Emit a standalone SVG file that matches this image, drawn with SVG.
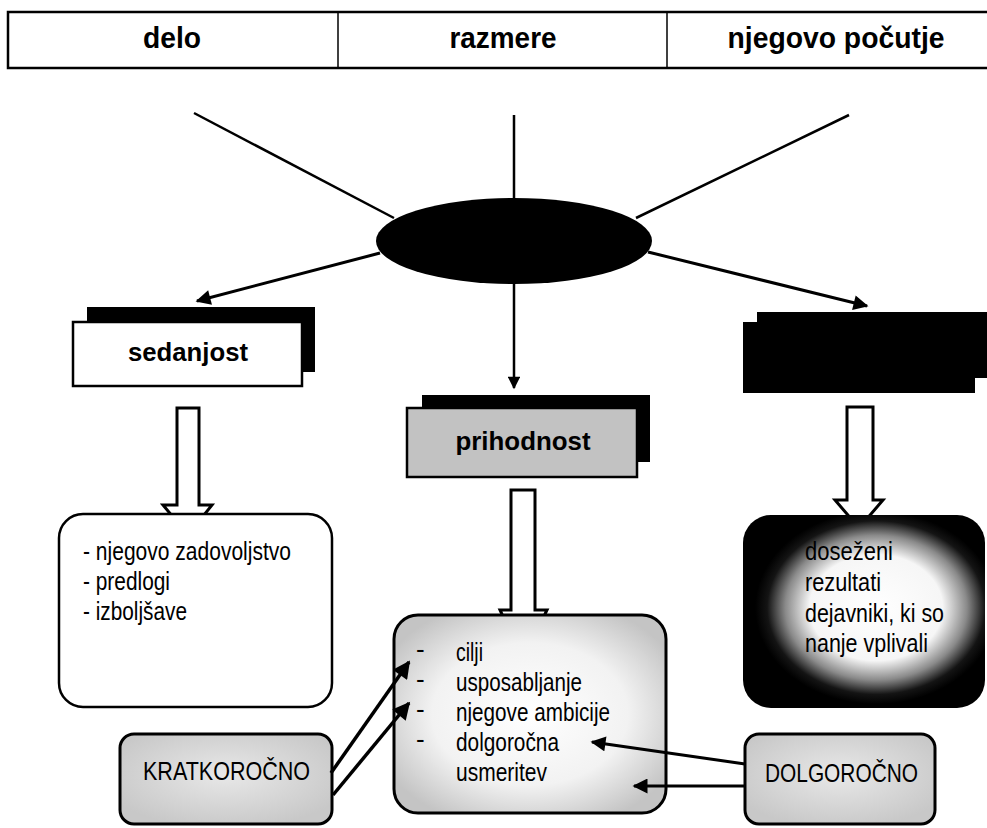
<svg xmlns="http://www.w3.org/2000/svg" width="987" height="828" viewBox="0 0 987 828">
<style>
.t{font-family:"Liberation Sans Narrow","Liberation Sans",Arial,sans-serif;fill:#000}
.hd{font-size:30px;font-weight:bold}
.bd{font-family:"Liberation Sans",Arial,sans-serif;font-size:25px;font-weight:bold;fill:#000}
.it{font-size:26px}
.ln{stroke:#000;fill:none}
.hol{fill:#fff;stroke:#000;stroke-width:3;stroke-linejoin:miter}
</style>
<defs>
<marker id="ah" viewBox="0 0 10 10" refX="9" refY="5" markerWidth="5.5" markerHeight="5" orient="auto" markerUnits="strokeWidth">
<path d="M0,0 L10,5 L0,10 z" fill="#000"/>
</marker>
<radialGradient id="gGray" cx="0.5" cy="0.5" r="0.6">
<stop offset="0" stop-color="#ffffff"/>
<stop offset="0.6" stop-color="#f2f2f2"/>
<stop offset="1" stop-color="#c4c4c4"/>
</radialGradient>
<radialGradient id="gGray2" cx="0.5" cy="0.45" r="0.6">
<stop offset="0" stop-color="#e8e8e8"/>
<stop offset="1" stop-color="#c8c8c8"/>
</radialGradient>
<radialGradient id="gDark" cx="0.55" cy="0.48" r="0.5">
<stop offset="0" stop-color="#ffffff"/>
<stop offset="0.55" stop-color="#f6f6f6"/>
<stop offset="0.75" stop-color="#8a8a8a"/>
<stop offset="0.9" stop-color="#141414"/>
<stop offset="1" stop-color="#000"/>
</radialGradient>
</defs>

<g id="header">
<rect x="8" y="12" width="990" height="56" fill="#fff" stroke="#000" stroke-width="2.5"/>
<line x1="338" y1="12" x2="338" y2="68" stroke="#000" stroke-width="1.5"/>
<line x1="667" y1="12" x2="667" y2="68" stroke="#000" stroke-width="1.5"/>
<text class="t hd" x="172" y="48" text-anchor="middle" textLength="58" lengthAdjust="spacingAndGlyphs">delo</text>
<text class="t hd" x="503" y="48" text-anchor="middle" textLength="107" lengthAdjust="spacingAndGlyphs">razmere</text>
<text class="t hd" x="836" y="48" text-anchor="middle" textLength="217" lengthAdjust="spacingAndGlyphs">njegovo počutje</text>
</g>

<g id="connectors">
<line class="ln" x1="194" y1="113" x2="394" y2="218" stroke-width="2.5"/>
<line class="ln" x1="849" y1="115" x2="636" y2="218" stroke-width="2.5"/>
<line class="ln" x1="514" y1="115" x2="514" y2="388" stroke-width="2.5" marker-end="url(#ah)"/>
<line class="ln" x1="380" y1="253" x2="197" y2="301" stroke-width="3" marker-end="url(#ah)"/>
<line class="ln" x1="648" y1="252" x2="867" y2="306" stroke-width="3" marker-end="url(#ah)"/>
<polygon class="hol" points="177,408 199,408 199,505 212,505 188,535 163,505 177,505"/>
<polygon class="hol" points="511,490 535,490 535,610 547,610 523,660 500,610 511,610"/>
<polygon class="hol" points="847,407 873,407 873,500 883,500 859,528 835,500 847,500"/>
</g>

<g id="hub">
<ellipse cx="514" cy="241" rx="138" ry="43" fill="#000"/>
</g>

<g id="node-sedanjost">
<rect x="87" y="307" width="228" height="65" fill="#000"/>
<rect x="73" y="322" width="229" height="64" fill="#fff" stroke="#000" stroke-width="2.5"/>
<text class="bd" x="188" y="361" text-anchor="middle" textLength="120" lengthAdjust="spacingAndGlyphs">sedanjost</text>
</g>

<g id="node-prihodnost">
<rect x="422" y="395" width="228" height="67" fill="#000"/>
<rect x="407" y="408" width="230" height="69" fill="#c2c2c2" stroke="#000" stroke-width="2.5"/>
<text class="bd" x="523" y="450" text-anchor="middle" textLength="135" lengthAdjust="spacingAndGlyphs">prihodnost</text>
</g>

<g id="node-right">
<rect x="757" y="312" width="232" height="66" fill="#000"/>
<rect x="743" y="322" width="232" height="71" fill="#000"/>
</g>

<g id="box-left">
<rect x="59" y="514" width="273" height="193" rx="24" fill="#fff" stroke="#000" stroke-width="2.5"/>
<text class="t it" x="83" y="560" textLength="208" lengthAdjust="spacingAndGlyphs">- njegovo zadovoljstvo</text>
<text class="t it" x="83" y="590" textLength="87" lengthAdjust="spacingAndGlyphs">- predlogi</text>
<text class="t it" x="83" y="620" textLength="104" lengthAdjust="spacingAndGlyphs">- izboljšave</text>
</g>

<g id="box-center">
<rect x="394" y="615" width="272" height="198" rx="24" fill="url(#gGray)" stroke="#000" stroke-width="3"/>
<text class="t it" x="416" y="658">-</text>
<text class="t it" x="416" y="688">-</text>
<text class="t it" x="416" y="718">-</text>
<text class="t it" x="416" y="748">-</text>
<text class="t it" x="456" y="661" textLength="27" lengthAdjust="spacingAndGlyphs">cilji</text>
<text class="t it" x="456" y="691" textLength="126" lengthAdjust="spacingAndGlyphs">usposabljanje</text>
<text class="t it" x="456" y="721" textLength="154" lengthAdjust="spacingAndGlyphs">njegove ambicije</text>
<text class="t it" x="456" y="751" textLength="103" lengthAdjust="spacingAndGlyphs">dolgoročna</text>
<text class="t it" x="456" y="781" textLength="91" lengthAdjust="spacingAndGlyphs">usmeritev</text>
</g>

<g id="box-right">
<rect x="743" y="515" width="242" height="193" rx="28" fill="url(#gDark)"/>
<text class="t it" x="805" y="560" textLength="88" lengthAdjust="spacingAndGlyphs">doseženi</text>
<text class="t it" x="805" y="591" textLength="76" lengthAdjust="spacingAndGlyphs">rezultati</text>
<text class="t it" x="805" y="622" textLength="139" lengthAdjust="spacingAndGlyphs">dejavniki, ki so</text>
<text class="t it" x="805" y="652" textLength="123" lengthAdjust="spacingAndGlyphs">nanje vplivali</text>
</g>

<g id="node-kratkorocno">
<rect x="120" y="734" width="212" height="90" rx="14" fill="url(#gGray2)" stroke="#000" stroke-width="3"/>
<text class="t it" x="143" y="780" textLength="167" lengthAdjust="spacingAndGlyphs">KRATKOROČNO</text>
</g>

<g id="node-dolgorocno">
<rect x="745" y="734" width="190" height="90" rx="14" fill="url(#gGray2)" stroke="#000" stroke-width="3"/>
<text class="t it" x="765" y="782" textLength="153" lengthAdjust="spacingAndGlyphs">DOLGOROČNO</text>
</g>

<g id="connectors-2">
<line class="ln" x1="331" y1="773" x2="409" y2="662" stroke-width="3.5" marker-end="url(#ah)"/>
<line class="ln" x1="333" y1="795" x2="409" y2="703" stroke-width="3.5" marker-end="url(#ah)"/>
<line class="ln" x1="745" y1="764" x2="592" y2="742" stroke-width="3" marker-end="url(#ah)"/>
<line class="ln" x1="745" y1="786" x2="634" y2="786" stroke-width="3" marker-end="url(#ah)"/>
</g>
</svg>
